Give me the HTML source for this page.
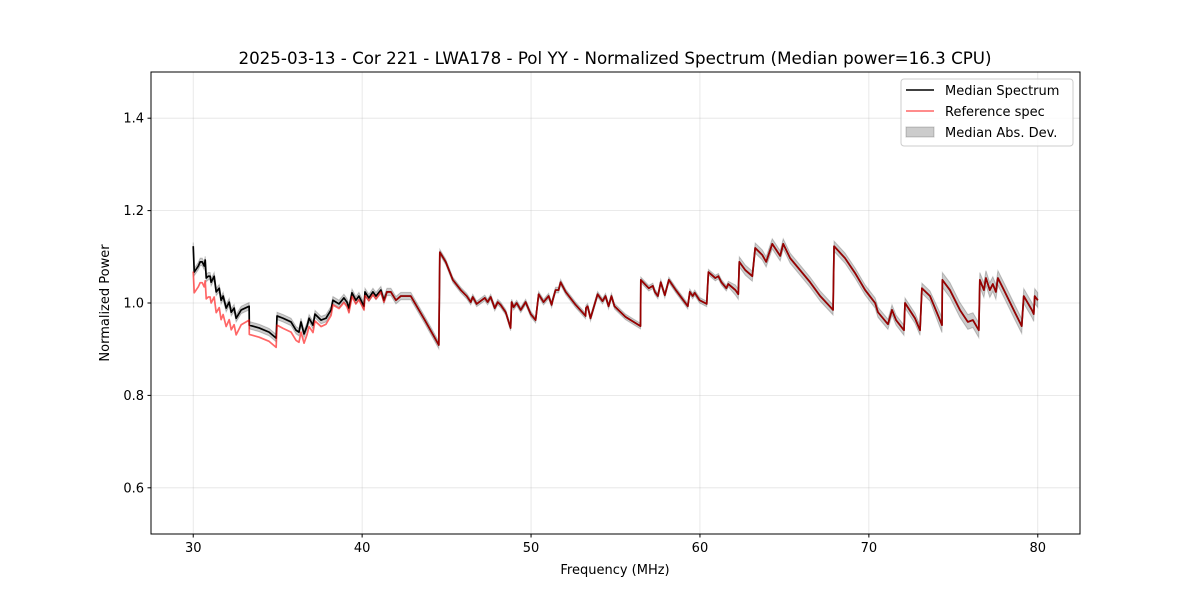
<!DOCTYPE html>
<html><head><meta charset="utf-8">
<style>
html,body{margin:0;padding:0;background:#fff;}
svg{display:block;font-family:"DejaVu Sans","Liberation Sans",sans-serif;}
</style></head>
<body>
<svg id="chart" width="1200" height="600" viewBox="0 0 1200 600" xmlns="http://www.w3.org/2000/svg">
<rect width="1200" height="600" fill="#fff"/>
<text x="615" y="64" text-anchor="middle" font-size="16.7">2025-03-13 - Cor 221 - LWA178 - Pol YY - Normalized Spectrum (Median power=16.3 CPU)</text>
<g id="grid"></g>
<g id="series"></g>
<rect x="151" y="72" width="929" height="462" fill="none" stroke="#000" stroke-width="1"/>
<g id="ticks"></g>
<text x="615" y="574" text-anchor="middle" font-size="13">Frequency (MHz)</text>
<text x="109" y="303" text-anchor="middle" font-size="13" transform="rotate(-90 109 303)">Normalized Power</text>
<g>
<rect x="901" y="79" width="172" height="67" rx="3" fill="#fff" fill-opacity="0.8" stroke="#ccc"/>
<g><line x1="906" y1="90" x2="934" y2="90" stroke="#000" stroke-width="1.5"/><text x="945" y="95" font-size="13">Median Spectrum</text></g>
<g><line x1="906" y1="111" x2="934" y2="111" stroke="#ff0000" stroke-opacity="0.6" stroke-width="1.5"/><text x="945" y="116" font-size="13">Reference spec</text></g>
<g><rect x="906" y="127" width="28" height="10" fill="#000" fill-opacity="0.2" stroke="#000" stroke-opacity="0.2"/><text x="945" y="137" font-size="13">Median Abs. Dev.</text></g>
</g>
</svg>
<script>
const freqs=[30.00,30.06,30.30,30.41,30.53,30.65,30.71,30.77,30.89,31.00,31.06,31.24,31.36,31.54,31.65,31.77,31.95,32.13,32.25,32.42,32.54,32.84,33.31,33.32,33.90,34.49,34.91,34.96,35.32,35.79,36.09,36.26,36.38,36.56,36.74,36.86,37.09,37.21,37.57,37.86,38.16,38.27,38.63,38.92,39.10,39.22,39.40,39.63,39.81,40.11,40.17,40.40,40.64,40.82,41.11,41.29,41.47,41.70,42.00,42.29,42.88,43.71,44.54,44.60,44.95,45.37,45.84,46.19,46.43,46.55,46.78,47.08,47.26,47.43,47.61,47.85,48.03,48.20,48.50,48.79,48.85,48.97,49.15,49.39,49.68,49.98,50.27,50.45,50.74,51.04,51.22,51.28,51.45,51.63,51.75,52.05,52.64,53.23,53.25,53.35,53.52,53.94,54.23,54.41,54.59,54.76,54.94,55.59,56.48,56.50,56.97,57.21,57.33,57.51,57.68,57.92,58.16,58.57,59.28,59.40,59.57,59.69,59.98,60.40,60.50,60.91,61.09,61.27,61.56,61.68,62.10,62.27,62.33,62.69,63.10,63.27,63.69,63.92,64.28,64.75,64.93,65.34,65.93,66.52,67.12,67.88,67.94,68.59,69.18,69.78,70.37,70.54,71.13,71.37,71.61,72.08,72.14,72.73,73.03,73.14,73.62,74.21,74.33,74.35,74.80,75.39,75.86,76.16,76.51,76.57,76.81,76.93,77.16,77.34,77.52,77.64,78.05,78.64,79.05,79.17,79.65,79.76,79.82,80.00];
const median=[1.123,1.067,1.080,1.089,1.089,1.080,1.093,1.054,1.058,1.058,1.045,1.058,1.024,1.032,1.006,1.015,0.989,1.002,0.980,0.989,0.967,0.985,0.993,0.952,0.946,0.937,0.924,0.972,0.967,0.959,0.941,0.937,0.959,0.933,0.950,0.967,0.952,0.976,0.963,0.967,0.985,1.006,0.998,1.011,1.002,0.989,1.022,1.006,1.015,0.993,1.024,1.011,1.024,1.015,1.028,1.006,1.024,1.024,1.006,1.015,1.015,0.963,0.909,1.110,1.089,1.050,1.028,1.015,1.002,1.013,0.998,1.006,1.011,1.002,1.013,0.989,1.002,0.996,0.980,0.946,1.002,0.991,1.000,0.985,1.002,0.976,0.963,1.019,1.002,1.015,0.996,1.006,1.028,1.028,1.045,1.024,0.996,0.972,0.989,0.993,0.967,1.019,1.004,1.015,0.993,1.015,0.993,0.970,0.950,1.050,1.032,1.037,1.024,1.015,1.045,1.017,1.050,1.028,0.993,1.024,1.015,1.022,1.006,0.998,1.067,1.054,1.058,1.045,1.032,1.041,1.028,1.019,1.089,1.071,1.058,1.119,1.104,1.089,1.128,1.102,1.128,1.097,1.071,1.045,1.015,0.985,1.123,1.097,1.065,1.028,1.000,0.980,0.954,0.985,0.963,0.941,1.000,0.967,0.941,1.032,1.015,0.963,0.952,1.050,1.028,0.985,0.959,0.963,0.941,1.050,1.028,1.054,1.028,1.041,1.024,1.054,1.024,0.980,0.950,1.015,0.985,0.976,1.015,1.006];
// reference minus median, read for low band (first points); remaining points coincide
const refDelta=[-0.055,-0.045,-0.045,-0.045,-0.045,-0.045,-0.045,-0.045,-0.045,-0.045,-0.045,-0.045,-0.045,-0.042,-0.042,-0.040,-0.040,-0.038,-0.038,-0.036,-0.036,-0.032,-0.030,-0.020,-0.020,-0.020,-0.020,-0.020,-0.022,-0.022,-0.022,-0.022,-0.022,-0.020,-0.018,-0.018,-0.016,-0.015,-0.014,-0.013,-0.012,-0.010,-0.010,-0.010,-0.010,-0.010,-0.008,-0.008,-0.008,-0.008,-0.008,-0.006,-0.006,-0.006,-0.004,-0.004];
const madFreq=[30,44.6,62,74,80];
const madVal=[0.008,0.006,0.011,0.016];
const xTicks=[30,40,50,60,70,80];
const yTicks=[0.6,0.8,1.0,1.2,1.4];
const yTickLabels=["0.6","0.8","1.0","1.2","1.4"];

const NS="http://www.w3.org/2000/svg";
const X0=151,X1=1080,Y0=534,Y1=72,xmin=27.5,xmax=82.5,ymin=0.5,ymax=1.5;
const xs=f=>X0+(f-xmin)/(xmax-xmin)*(X1-X0);
const ys=v=>Y0-(v-ymin)/(ymax-ymin)*(Y0-Y1);
function mk(tag,attrs,parent){const e=document.createElementNS(NS,tag);for(const k in attrs)e.setAttribute(k,attrs[k]);parent.appendChild(e);return e;}
const grid=document.getElementById('grid'),ticks=document.getElementById('ticks'),series=document.getElementById('series');
xTicks.forEach(t=>{
  const gl=mk('line',{x1:xs(t),x2:xs(t),y1:Y1,y2:Y0,stroke:'#b0b0b0','stroke-opacity':0.35,'stroke-width':0.8},grid);
  
  
  const tl=mk('line',{x1:xs(t),x2:xs(t),y1:Y0,y2:Y0+3.5,stroke:'#000'},ticks);
  
  
  const tx=mk('text',{x:xs(t),y:Y0+18,'text-anchor':'middle','font-size':13},ticks);
  tx.textContent=String(t);
  
  
});
yTicks.forEach((t,i)=>{
  const gl=mk('line',{x1:X0,x2:X1,y1:ys(t),y2:ys(t),stroke:'#b0b0b0','stroke-opacity':0.35,'stroke-width':0.8},grid);
  
  
  const tl=mk('line',{x1:X0-3.5,x2:X0,y1:ys(t),y2:ys(t),stroke:'#000'},ticks);
  
  
  const tx=mk('text',{x:X0-7,y:ys(t)+4.5,'text-anchor':'end','font-size':13},ticks);
  tx.textContent=yTickLabels[i];
  
  
});
function mad(f){for(let i=0;i<madVal.length;i++){if(f<madFreq[i+1])return madVal[i];}return madVal[madVal.length-1];}
let up=[],dn=[];
freqs.forEach((f,i)=>{up.push(xs(f)+','+ys(median[i]+mad(f)));dn.push(xs(f)+','+ys(median[i]-mad(f)));});
const band=mk('polygon',{points:up.concat(dn.reverse()).join(' '),fill:'#000','fill-opacity':0.2,stroke:'#000','stroke-opacity':0.2,'stroke-width':1},series);


const mp=freqs.map((f,i)=>xs(f)+','+ys(median[i])).join(' ');
const ml=mk('polyline',{points:mp,fill:'none',stroke:'#000','stroke-width':1.7,'stroke-linejoin':'round'},series);


const rp=freqs.map((f,i)=>xs(f)+','+ys(median[i]+(i<refDelta.length?refDelta[i]:0))).join(' ');
const rl=mk('polyline',{points:rp,fill:'none',stroke:'#ff0000','stroke-opacity':0.6,'stroke-width':1.7,'stroke-linejoin':'round'},series);


</script>
</body></html>
